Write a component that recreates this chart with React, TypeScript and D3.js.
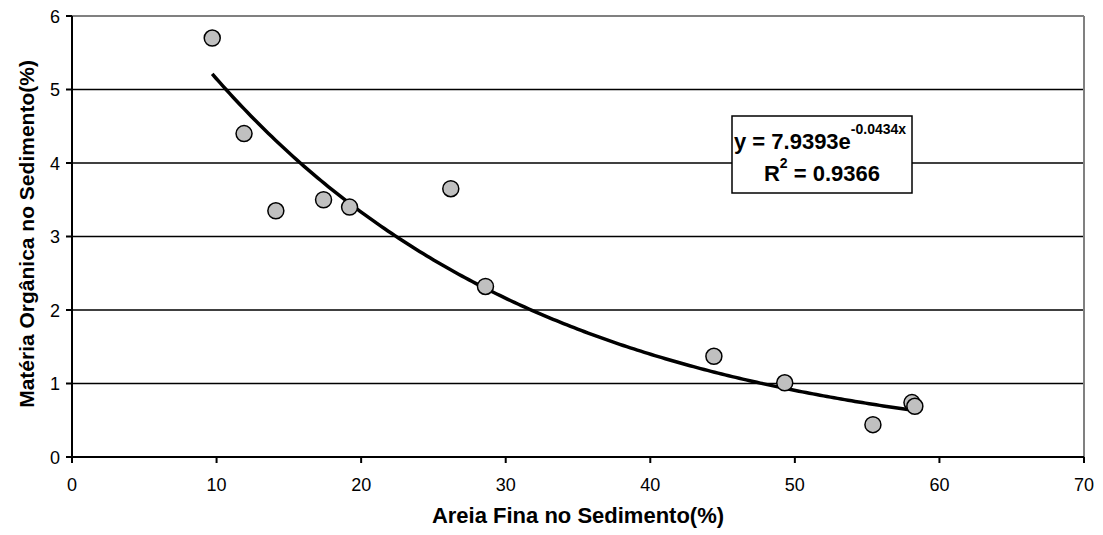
import React from "react";
import * as d3 from "d3";

const sandX = [9.7, 11.9, 14.1, 17.4, 19.2, 26.2, 28.6, 44.4, 49.3, 55.4, 58.1, 58.3];
const organicY = [5.7, 4.4, 3.35, 3.5, 3.4, 3.65, 2.32, 1.37, 1.01, 0.44, 0.74, 0.69];
const xTicks = [0, 10, 20, 30, 40, 50, 60, 70];
const yTicks = [0, 1, 2, 3, 4, 5, 6];
const trendA = 7.9393;
const trendB = -0.0434;
const eqMain = "y = 7.9393e";
const eqExp = "-0.0434x";
const r2Label = "= 0.9366";
const xTitle = "Areia Fina no Sedimento(%)";
const yTitle = "Matéria Orgânica no Sedimento(%)";

const W = 1103;
const H = 535;
const M = { left: 72, right: 19, top: 16, bottom: 78 };

export default function App() {
  const x = d3.scaleLinear().domain([0, 70]).range([M.left, W - M.right]);
  const y = d3.scaleLinear().domain([0, 6]).range([H - M.bottom, M.top]);
  const xMin = d3.min(sandX)!;
  const xMax = d3.max(sandX)!;
  const trendPts = d3.range(0, 201).map((i) => {
    const xv = xMin + ((xMax - xMin) * i) / 200;
    return [xv, trendA * Math.exp(trendB * xv)] as [number, number];
  });
  const line = d3
    .line<[number, number]>()
    .x((d) => x(d[0]))
    .y((d) => y(d[1]))
    .curve(d3.curveLinear);
  const font = "Arial, 'Liberation Sans', sans-serif";
  const x0 = x(0), x1 = x(70), y0 = y(0), y1 = y(6);
  return (
    <svg
      width={W}
      height={H}
      style={{ position: "absolute", left: 0, top: 0, background: "#fff" }}
      fontFamily={font}
    >
      {/* gridlines */}
      {yTicks.filter((t) => t > 0 && t < 6).map((t) => (
        <line key={"g" + t} x1={x0} x2={x1} y1={y(t)} y2={y(t)} stroke="#000" strokeWidth={1.5} />
      ))}
      {/* plot border top/right */}
      <line x1={x0} x2={x1} y1={y1} y2={y1} stroke="#808080" strokeWidth={2} />
      <line x1={x1} x2={x1} y1={y1} y2={y0} stroke="#808080" strokeWidth={2} />
      {/* axes */}
      <line x1={x0} x2={x0} y1={y1} y2={y0} stroke="#000" strokeWidth={2} />
      <line x1={x0} x2={x1} y1={y0} y2={y0} stroke="#000" strokeWidth={2} />
      {xTicks.map((t) => (
        <g key={"xt" + t}>
          <line x1={x(t)} x2={x(t)} y1={y0} y2={y0 + 6} stroke="#000" strokeWidth={2} />
          <text x={x(t)} y={y0 + 34} textAnchor="middle" fontSize={18} fill="#000">
            {t}
          </text>
        </g>
      ))}
      {yTicks.map((t) => (
        <g key={"yt" + t}>
          <line x1={x0 - 6} x2={x0} y1={y(t)} y2={y(t)} stroke="#000" strokeWidth={2} />
          <text x={x0 - 12} y={y(t) + 6.5} textAnchor="end" fontSize={18} fill="#000">
            {t}
          </text>
        </g>
      ))}
      {/* trendline */}
      <path d={line(trendPts) || ""} fill="none" stroke="#000" strokeWidth={3.5} />
      {/* points */}
      {sandX.map((xv, i) => (
        <circle
          key={"p" + i}
          cx={x(xv)}
          cy={y(organicY[i])}
          r={8}
          fill="#c0c0c0"
          stroke="#000"
          strokeWidth={1.5}
        />
      ))}
      {/* equation box */}
      <rect x={732} y={116} width={180} height={77} fill="#fff" stroke="#000" strokeWidth={1.5} />
      <text x={734} y={149} fontSize={22} fontWeight="bold" fill="#000">
        {eqMain}
        <tspan dy={-15} fontSize={14}>{eqExp}</tspan>
      </text>
      <text x={822} y={181} fontSize={22} fontWeight="bold" fill="#000" textAnchor="middle">
        R
        <tspan dy={-13} fontSize={14}>2</tspan>
        <tspan dy={13}>{" " + r2Label}</tspan>
      </text>
      {/* axis titles */}
      <text x={578} y={523} textAnchor="middle" fontSize={22} fontWeight="bold" fill="#000">
        {xTitle}
      </text>
      <text
        transform={`translate(34, 234) rotate(-90)`}
        textAnchor="middle"
        fontSize={21}
        fontWeight="bold"
        fill="#000"
      >
        {yTitle}
      </text>
    </svg>
  );
}
